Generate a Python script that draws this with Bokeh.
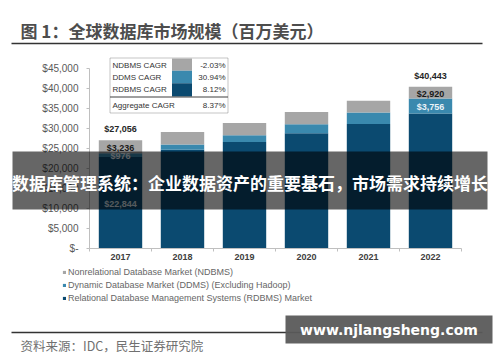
from bokeh.plotting import figure
from bokeh.models import (Range1d, FixedTicker, BoxAnnotation, Label, LinearAxis,
                          Legend, LegendItem, ColumnDataSource)
from bokeh.core.properties import value
from bokeh.embed import file_html
from bokeh.resources import INLINE

# ---------------- data ----------------
years = ["2017", "2018", "2019", "2020", "2021", "2022"]
rdbms = [22844, 24700, 26600, 28800, 31100, 33767]
ddms = [976, 1280, 1700, 2250, 2900, 3756]
ndbms = [3236, 3150, 3100, 3050, 2950, 2920]
series_keys = ["rdbms", "ddms", "ndbms"]
series_names = ["Relational Database Management Systems (RDBMS) Market",
                "Dynamic Database Market (DDMS) (Excluding Hadoop)",
                "Nonrelational Database Market (NDBMS)"]
colors = ["#0b4a70", "#3a89ae", "#a6a6a6"]

y_ticks = [0, 5000, 10000, 15000, 20000, 25000, 30000, 35000, 40000, 45000]
y_tick_labels = ["$-", "$5,000", "$10,000", "$15,000", "$20,000", "$25,000",
                 "$30,000", "$35,000", "$40,000", "$45,000"]

total_label_years = ["2017", "2022"]
segment_label_pairs = [("2017", 2), ("2017", 1), ("2017", 0), ("2022", 2), ("2022", 1)]

cagr_names = ["NDBMS CAGR", "DDMS CAGR", "RDBMS CAGR", "Aggregate CAGR"]
cagr_values = ["-2.03%", "30.94%", "8.12%", "8.37%"]

title_text = "图 1：全球数据库市场规模（百万美元）"
banner_text = "数据库管理系统：企业数据资产的重要基石，市场需求持续增长"
source_text = "资料来源：IDC，民生证券研究院"
watermark_text = "www.njlangsheng.com"

# ---------------- layout constants (pixels) ----------------
W, H = 500, 362
X0, CAT_PX = 89, 62          # left edge of the category axis, width of a category
Y0, UNITS_PER_PX = 248, 250  # pixel row of value 0, value units per pixel

x_pos = [i + 0.5 for i in range(len(years))]
stack = [rdbms, ddms, ndbms]

p = figure(width=W, height=H,
           x_range=Range1d(-X0 / CAT_PX, (W - X0) / CAT_PX),
           y_range=Range1d(-(H - Y0) * UNITS_PER_PX, Y0 * UNITS_PER_PX),
           output_backend="svg", toolbar_location=None,
           x_axis_location=None, y_axis_location=None)
p.min_border = 0
p.min_border_left = 0
p.min_border_right = 0
p.min_border_top = 0
p.min_border_bottom = 0
p.grid.visible = False
p.outline_line_color = None
p.background_fill_color = "white"
p.border_fill_color = "white"

src = ColumnDataSource(dict(x=x_pos, rdbms=rdbms, ddms=ddms, ndbms=ndbms))
rs = p.vbar_stack(series_keys, x="x", width=0.7, fill_color=colors,
                  line_color=None, source=src)

# ---------------- axes ----------------
yax = LinearAxis(ticker=FixedTicker(ticks=y_ticks), fixed_location=0,
                 bounds=(0, 45000))
yax.major_label_overrides = dict(zip(y_ticks, y_tick_labels))
yax.axis_line_color = "#bfbfbf"
yax.major_tick_line_color = "#bfbfbf"
yax.major_tick_in = 0
yax.major_tick_out = 3
yax.minor_tick_line_color = None
yax.major_label_standoff = 8
yax.major_label_text_font = "Liberation Sans"
yax.major_label_text_font_size = "10px"
yax.major_label_text_color = "#595959"
p.add_layout(yax, "left")

xax = LinearAxis(ticker=FixedTicker(ticks=x_pos), fixed_location=0,
                 bounds=(0, len(years)))
xax.major_label_overrides = dict(zip(x_pos, years))
xax.axis_line_color = "#bfbfbf"
xax.major_tick_line_color = None
xax.major_tick_in = 0
xax.major_tick_out = 0
xax.minor_tick_line_color = None
xax.major_label_standoff = 5
xax.major_label_text_font = "Liberation Sans"
xax.major_label_text_font_style = "bold"
xax.major_label_text_font_size = "9px"
xax.major_label_text_color = "#404040"
p.add_layout(xax, "below")

# boundary ticks between categories
bax = LinearAxis(ticker=FixedTicker(ticks=list(range(len(years) + 1))),
                 fixed_location=0, axis_line_color=None,
                 major_tick_line_color="#bfbfbf", major_tick_in=0, major_tick_out=3,
                 minor_tick_line_color=None, major_label_text_color=None)
p.add_layout(bax, "below")

# ---------------- value labels ----------------
def total(year):
    i = years.index(year)
    return sum(s[i] for s in stack)

def seg_mid(year, k):
    i = years.index(year)
    base = sum(s[i] for s in stack[:k])
    return base + stack[k][i] / 2

tot_src = ColumnDataSource(dict(x=[x_pos[years.index(y)] for y in total_label_years],
                                y=[total(y) for y in total_label_years],
                                t=["${:,}".format(total(y)) for y in total_label_years]))
p.text(x="x", y="y", text="t", source=tot_src, text_align="center",
       text_baseline="middle", y_offset=-11, text_font=value("Liberation Sans"),
       text_font_style="bold", text_font_size="9px", text_color="#262626")

seg_text_colors = ["#d5e1ea", "#eaf3f8", "#1a1a1a"]
seg_src = ColumnDataSource(dict(
    x=[x_pos[years.index(yr)] for yr, k in segment_label_pairs],
    y=[seg_mid(yr, k) for yr, k in segment_label_pairs],
    t=["${:,}".format(stack[k][years.index(yr)]) for yr, k in segment_label_pairs],
    c=[seg_text_colors[k] for yr, k in segment_label_pairs]))
p.text(x="x", y="y", text="t", source=seg_src, text_align="center",
       text_baseline="middle", y_offset=1, text_font=value("Liberation Sans"),
       text_font_style="bold", text_font_size="9px", text_color="c")

# ---------------- legend ----------------
items = [LegendItem(label=series_names[k], renderers=[rs[k]]) for k in (2, 1, 0)]
legend = Legend(items=items, location=(62, 58), orientation="vertical",
                padding=0, margin=0, spacing=0, label_height=13,
                glyph_height=4, glyph_width=4, label_standoff=2,
                border_line_color=None, background_fill_alpha=0,
                label_text_font="Liberation Sans", label_text_font_size="9px",
                label_text_color="#666666")
p.add_layout(legend)

# ---------- helpers mapping page pixels to the plot's coordinates ----------
def dx(xi):
    return (xi - X0) / CAT_PX

def dy(yi):
    return (Y0 - yi) * UNITS_PER_PX

def box(l, r, t, b, fill, alpha=1.0, line=None, lw=1):
    ba = BoxAnnotation(left=dx(l), right=dx(r), top=dy(t), bottom=dy(b),
                       fill_color=fill, fill_alpha=alpha,
                       line_color=line, line_width=lw)
    p.add_layout(ba)
    return ba

def label(x, y, text, size, color, font="Liberation Sans", bold=False, align="left"):
    lb = Label(x=dx(x), y=dy(y), text=text, text_font=font, text_font_size=size,
               text_color=color, text_align=align, text_baseline="middle",
               text_font_style="bold" if bold else "normal")
    p.add_layout(lb)
    return lb

# CAGR table
box(109.5, 227.5, 57.5, 112.5, None, 0, line="#404040", lw=1)
row_bounds = [(58, 70.3), (70.3, 82.7), (82.7, 96)]
for (t, b), c in zip(row_bounds, colors[::-1]):
    box(171.5, 191.5, t, b, c)
box(109.5, 227.5, 96, 97, "#404040")
row_y = [64.5, 76.5, 89, 104.5]
for yy, n, v in zip(row_y, cagr_names, cagr_values):
    label(112, yy, n, "8px", "#333333")
    label(225, yy, v, "8px", "#333333", align="right")

# title
label(20, 30, title_text, "17px", "#4d4d4d", font="Noto Sans CJK SC", bold=True)
box(11, 482, 42.3, 43.8, "#333333")

# banner overlay
box(12, 487, 151, 209, "black", 0.6)
label(249.5, 182, banner_text, "17px", "white", font="Noto Sans CJK SC", bold=True,
      align="center")

# bottom line and source
box(11, 482, 331.3, 332.8, "#333333")
label(20, 345, source_text, "12.5px", "#707070", font="Noto Sans CJK SC")

# watermark
box(285, 492, 315, 343, "#5a5a5a", 0.95)
label(388.5, 329, watermark_text, "14px", "white", font="DejaVu Sans", bold=True,
      align="center")

open("out.html", "w").write(file_html(p, INLINE))
